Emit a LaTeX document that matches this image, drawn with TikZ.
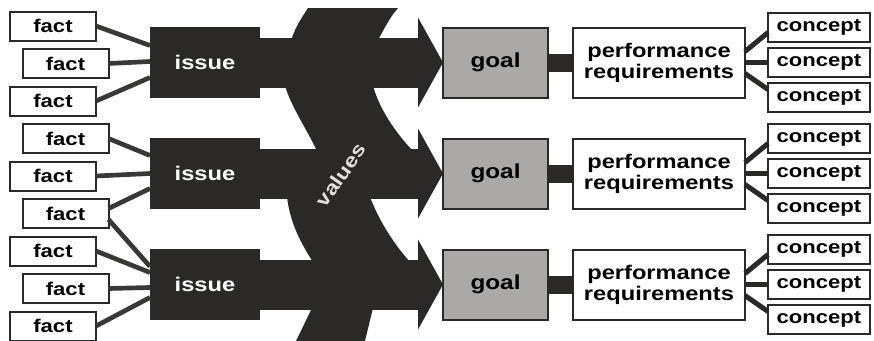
\documentclass[tikz,border=0pt]{standalone}
\usepackage{fontspec}
\setmainfont[FakeStretch=1.2]{Liberation Sans}
\usetikzlibrary{arrows.meta,calc}
\definecolor{ink}{HTML}{2B2927}
\definecolor{wire}{HTML}{3A3836}
\definecolor{goalgray}{HTML}{ABA9A6}
\definecolor{paleink}{HTML}{E2E0DD}

\begin{document}
\begin{tikzpicture}[
  x=0.75pt,y=-0.75pt,
  every node/.style={align=center,inner sep=0pt,outer sep=0pt},
  fact/.style={draw=ink,line width=1.5pt,fill=white,minimum width=64.5pt,minimum height=21.75pt,font=\bfseries\fontsize{13.8}{15}\selectfont},
  concept/.style={fact,minimum width=76.5pt},
  issue/.style={fill=ink,text=white,minimum width=82.5pt,minimum height=53.25pt,font=\bfseries\fontsize{14.8}{16}\selectfont},
  goal/.style={draw=ink,line width=1.5pt,fill=goalgray,minimum width=78.75pt,minimum height=52.5pt,font=\bfseries\fontsize{15.2}{16}\selectfont},
  perf/.style={draw=ink,line width=1.5pt,fill=white,minimum width=129pt,minimum height=52.5pt,font=\bfseries\fontsize{14.8}{15.75}\selectfont},
  link/.style={wire,line width=3.5pt},
  tie/.style={ink,line width=3.75pt},
  bar/.style={ink,line width=13.5pt},
  block/.style={ink,line width=37.5pt,-{Triangle[length=18.75pt,width=67.5pt,line width=0pt]}}
]
\useasboundingbox (0,0) rectangle (874,340);
% values band
\fill[ink] (308,8) -- (398,8) .. controls (390,18) .. (378,40) -- (373,86)
  .. controls (380,110) and (395,132) .. (413,151) -- (370,197)
  .. controls (378,218) and (392,242) .. (410,262) -- (373,308)
  -- (365,341) -- (296,341) -- (312,308) -- (313,262)
  .. controls (300,242) and (290,222) .. (287,197) -- (317,151)
  .. controls (305,126) and (292,108) .. (285,86) -- (291,40)
  .. controls (297,25) .. (308,8) -- cycle;
\node[fact] (f1) at (53,26) {fact};
\node[fact] (f2) at (65.5,63.5) {fact};
\node[fact] (f3) at (53,101) {fact};
\node[fact] (f4) at (65.5,138.5) {fact};
\node[fact] (f5) at (53,176) {fact};
\node[fact] (f6) at (65.5,213.5) {fact};
\node[fact] (f7) at (53,251) {fact};
\node[fact] (f8) at (65.5,288.5) {fact};
\node[fact] (f9) at (53,326) {fact};
\node[issue] (i1) at (205,62.5) {issue};
\node[issue] (i2) at (205,173.5) {issue};
\node[issue] (i3) at (205,284.5) {issue};
\node[goal] (g1) at (495.5,62.5) {goal};
\node[goal] (g2) at (495.5,173.5) {goal};
\node[goal] (g3) at (495.5,284.5) {goal};
\node[perf] (p1) at (659,62.5) {performance\\requirements};
\node[perf] (p2) at (659,173.5) {performance\\requirements};
\node[perf] (p3) at (659,284.5) {performance\\requirements};
\node[concept] (c11) at (819,27.5) {concept};
\node[concept] (c12) at (819,62.5) {concept};
\node[concept] (c13) at (819,97.5) {concept};
\node[concept] (c21) at (819,138.5) {concept};
\node[concept] (c22) at (819,173.5) {concept};
\node[concept] (c23) at (819,208.5) {concept};
\node[concept] (c31) at (819,249.5) {concept};
\node[concept] (c32) at (819,284.5) {concept};
\node[concept] (c33) at (819,319.5) {concept};
\draw[link] (f1.east) -- ($(i1.west)+(0,-17)$);
\draw[link] (f2.east) -- ($(i1.west)+(0,-1)$);
\draw[link] (f3.east) -- ($(i1.west)+(0,15)$);
\draw[link] (f4.east) -- ($(i2.west)+(0,-18)$);
\draw[link] (f5.east) -- (i2.west);
\draw[link] ($(f6.east)+(0,-5)$) -- ($(i2.west)+(0,15)$);
\draw[link] ($(f6.east)+(0,6)$) -- ($(i3.west)+(0,-18)$);
\draw[link] (f7.east) -- ($(i3.west)+(0,-12)$);
\draw[link] (f8.east) -- ($(i3.west)+(0,3)$);
\draw[link] (f9.east) -- ($(i3.west)+(0,13)$);
\draw[block] (i1.east) -- (g1.west);
\draw[block] (i2.east) -- (g2.west);
\draw[block] (i3.east) -- (g3.west);
\draw[bar] (g1.east) -- (p1.west);
\draw[bar] (g2.east) -- (p2.west);
\draw[bar] (g3.east) -- (p3.west);
\draw[tie] ($(p1.east)+(0,-11)$) -- ($(c11.west)+(0,5)$);
\draw[tie] (p1.east) -- (c12.west);
\draw[tie] ($(p1.east)+(0,11)$) -- ($(c13.west)+(0,-8)$);
\draw[tie] ($(p2.east)+(0,-11)$) -- ($(c21.west)+(0,5)$);
\draw[tie] (p2.east) -- (c22.west);
\draw[tie] ($(p2.east)+(0,11)$) -- ($(c23.west)+(0,-8)$);
\draw[tie] ($(p3.east)+(0,-11)$) -- ($(c31.west)+(0,5)$);
\draw[tie] (p3.east) -- (c32.west);
\draw[tie] ($(p3.east)+(0,11)$) -- ($(c33.west)+(0,-8)$);
\node[text=paleink,rotate=55,font=\bfseries\fontsize{14.5}{16}\selectfont] (val) at (341,175) {values};
\end{tikzpicture}
\end{document}
